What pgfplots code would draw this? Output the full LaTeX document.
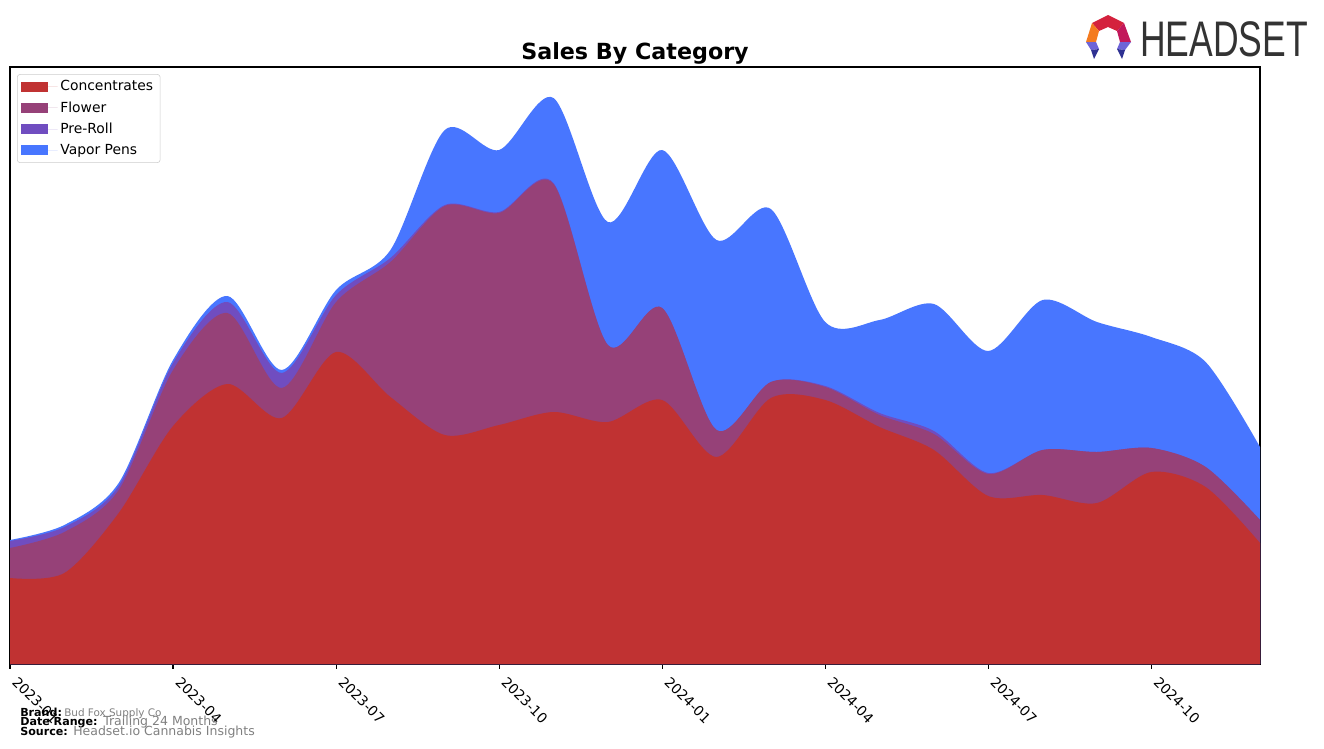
\documentclass[border=0pt]{standalone}
\usepackage{fontspec}
\setmainfont{DejaVu Sans}
\newfontfamily\logofont{Liberation Sans}
\usepackage{pgfplots}
\pgfplotsset{compat=1.18}
\usepackage{pgfplotstable}
\definecolor{conc}{RGB}{192,50,50}
\definecolor{flow}{RGB}{150,65,120}
\definecolor{prer}{RGB}{112,77,192}
\definecolor{vape}{RGB}{72,118,255}
\definecolor{txtgray}{RGB}{128,128,128}
\definecolor{lgred}{RGB}{212,33,61}
\definecolor{lgmag}{RGB}{194,24,91}
\definecolor{lgora}{RGB}{244,123,32}
\definecolor{lgpur}{RGB}{110,100,215}
\definecolor{lgnav}{RGB}{46,49,146}

% monthly values, 2023-01 .. 2024-12 (m = month index)
\pgfplotstableread{
m  C    F    P   V
0  86   30   7   1
1  91   41   5   2
2  151  23   4   3
3  238  56   7   3
4  280  71  11   6
5  246  30  15   3
6  312  50   7   5
7  267 135   4   8
8  229 229   1  75
9  239 212   1  62
10 252 228   1  85
11 242  77   0 123
12 264  92   0 158
13 207  27   0 190
14 266  16   0 173
15 264  13   1  64
16 237  12   2  93
17 214  16   3 127
18 168  22   1 122
19 169  45   0 150
20 161  51   0 130
21 192  24   0 111
22 177  20   0 105
23 121  23   0  73
}\sales

\begin{document}
\begin{tikzpicture}
\begin{axis}[
  at={(7.2pt,-478.08pt)}, anchor=south west,
  scale only axis, width=900pt, height=429.84pt,
  xmin=0, xmax=23, ymin=0, ymax=597,
  xtick={0,3,6,9,12,15,18,21},
  xticklabels={2023-01,2023-04,2023-07,2023-10,2024-01,2024-04,2024-07,2024-10},
  xticklabel style={xshift=6.3pt, yshift=-3.4pt, rotate=-45, anchor=north west, font=\fontsize{10}{12}\selectfont, inner sep=1pt},
  ytick=\empty,
  xtick pos=bottom, tick align=outside, major tick length=3.5pt,
  axis line style={line width=0.8pt},
  every tick/.style={black, line width=0.8pt},
  legend style={at={(0.0056,0.988)}, anchor=north west, draw=black!20, fill=white,
    rounded corners=2pt, font=\fontsize{10}{12}\selectfont, row sep=2.2pt,
    inner xsep=3pt, inner ysep=2.5pt, cells={anchor=west}},
  reverse legend,
  legend image code/.code={\fill[#1, sharp corners] (0pt,-3.6pt) rectangle (19.4pt,3.6pt); \path (0pt,0pt) -- (26pt,0pt);},
]
\addplot[fill=vape, draw=none, smooth] table[x=m, y expr=\thisrow{C}+\thisrow{F}+\thisrow{P}+\thisrow{V}]{\sales} \closedcycle;
\addplot[fill=prer, draw=none, smooth] table[x=m, y expr=\thisrow{C}+\thisrow{F}+\thisrow{P}]{\sales} \closedcycle;
\addplot[fill=flow, draw=none, smooth] table[x=m, y expr=\thisrow{C}+\thisrow{F}]{\sales} \closedcycle;
\addplot[fill=conc, draw=none, smooth] table[x=m, y=C]{\sales} \closedcycle;
\legend{Vapor Pens, Pre-Roll, Flower, Concentrates}
\end{axis}
\begin{scope}[x=0.72pt, y=-0.72pt]
  \path[use as bounding box] (0,0) rectangle (1324,748);
  \node[anchor=base, font=\bfseries\fontsize{16}{19}\selectfont, inner sep=0] at (635,59) {Sales By Category};
  % footer
  \node[anchor=base west, font=\bfseries\fontsize{8}{9}\selectfont, inner sep=0] at (20,716) {Brand:};
  \node[anchor=base west, font=\fontsize{7.5}{9}\selectfont, text=txtgray, inner sep=0] at (64,716) {Bud Fox Supply Co};
  \node[anchor=base west, font=\bfseries\fontsize{8}{9}\selectfont, inner sep=0] at (20,725.5) {Date Range:};
  \node[anchor=base west, font=\fontsize{9}{10}\selectfont, text=txtgray, inner sep=0] at (103,725.5) {Trailing 24 Months};
  \node[anchor=base west, font=\bfseries\fontsize{8}{9}\selectfont, inner sep=0] at (20,735) {Source:};
  \node[anchor=base west, font=\fontsize{9}{10}\selectfont, text=txtgray, inner sep=0] at (73,735) {Headset.io Cannabis Insights};
  % logo
  \fill[lgred] (1092,23) -- (1108,15) -- (1124,23) -- (1117,31) -- (1108,27) -- (1099,31) -- cycle;
  \fill[lgmag] (1124,23) -- (1131,42) -- (1120,42) -- (1117,31) -- cycle;
  \fill[lgora] (1092,23) -- (1099,31) -- (1096,42) -- (1086,42) -- cycle;
  \fill[lgpur] (1086,42) -- (1096,42) -- (1099,49) -- (1091,50) -- cycle;
  \fill[lgnav] (1091,50) -- (1099,49) -- (1094,59) -- cycle;
  \fill[lgpur] (1131,42) -- (1120,42) -- (1117,49) -- (1125,50) -- cycle;
  \fill[lgnav] (1125,50) -- (1117,49) -- (1122,59) -- cycle;
  \node[anchor=base west, font=\logofont\fontsize{36}{40}\selectfont, text=black!80, xscale=0.71, inner sep=0] at (1140,56) {HEADSET};
\end{scope}
\end{tikzpicture}
\end{document}
